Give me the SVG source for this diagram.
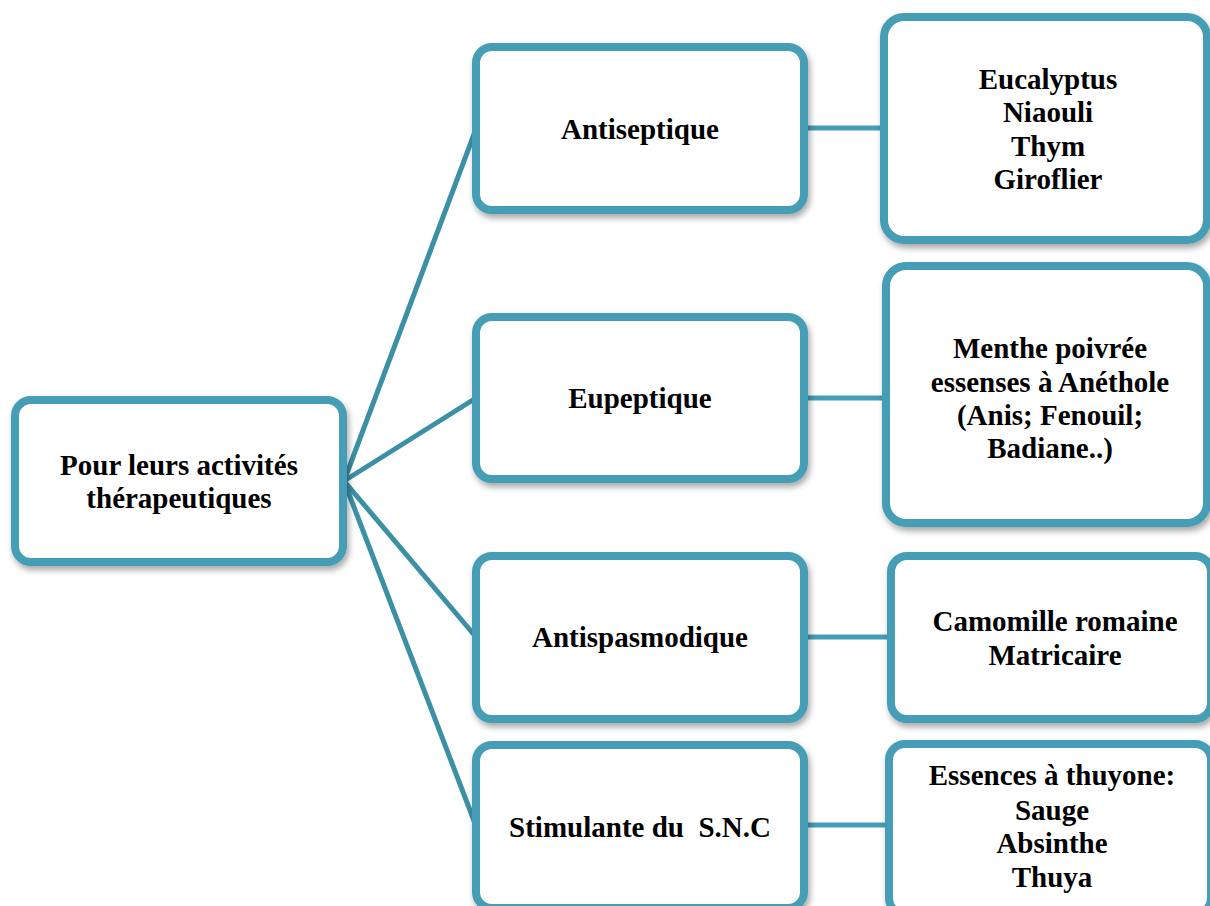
<svg xmlns="http://www.w3.org/2000/svg" width="1210" height="906" viewBox="0 0 1210 906">
<defs>
<filter id="sh" x="-10%" y="-10%" width="125%" height="130%">
<feDropShadow dx="2" dy="4" stdDeviation="3" flood-color="#000" flood-opacity="0.35"/>
</filter>
</defs>
<style>
.box{fill:#fff;stroke:#459DB6;stroke-width:8;filter:url(#sh)}
.fan{stroke:#3C90A6;stroke-width:5;fill:none}
.hz{stroke:#459DB6;stroke-width:5;fill:none}
text{font-family:"Liberation Serif","Times New Roman",serif;font-weight:bold;font-size:29px;fill:#000;text-anchor:middle;white-space:pre}
</style>
<rect width="1210" height="906" fill="#fff"/>
<g id="connectors">
<line class="fan" x1="344" y1="481" x2="476" y2="129"/>
<line class="fan" x1="344" y1="481" x2="476" y2="398"/>
<line class="fan" x1="344" y1="481" x2="476" y2="637"/>
<line class="fan" x1="344" y1="481" x2="476" y2="826"/>
<line class="hz" x1="804" y1="128" x2="884" y2="128"/>
<line class="hz" x1="804" y1="398" x2="886" y2="398"/>
<line class="hz" x1="804" y1="637" x2="891" y2="637"/>
<line class="hz" x1="804" y1="825" x2="889" y2="825"/>
</g>
<g id="root">
<rect class="box" x="15" y="400" width="328" height="162" rx="16"/>
<text x="179" y="475">Pour leurs activités</text>
<text x="179" y="508">thérapeutiques</text>
</g>
<g id="antiseptique">
<rect class="box" x="476" y="47" width="328" height="163" rx="16"/>
<text x="640" y="139">Antiseptique</text>
</g>
<g id="eupeptique">
<rect class="box" x="476" y="317" width="328" height="162" rx="16"/>
<text x="640" y="408">Eupeptique</text>
</g>
<g id="antispasmodique">
<rect class="box" x="476" y="556" width="328" height="163" rx="16"/>
<text x="640" y="647">Antispasmodique</text>
</g>
<g id="stimulante">
<rect class="box" x="476" y="745" width="328" height="163" rx="16"/>
<text x="640" y="837">Stimulante du  S.N.C</text>
</g>
<g id="eucalyptus">
<rect class="box" x="884" y="17" width="323" height="223" rx="20"/>
<text x="1048" y="89">Eucalyptus</text>
<text x="1048" y="122">Niaouli</text>
<text x="1048" y="156">Thym</text>
<text x="1048" y="189">Giroflier</text>
</g>
<g id="menthe">
<rect class="box" x="886" y="266" width="321" height="257" rx="20"/>
<text x="1050" y="358">Menthe poivrée</text>
<text x="1050" y="392">essenses à Anéthole</text>
<text x="1050" y="425">(Anis; Fenouil;</text>
<text x="1050" y="458">Badiane..)</text>
</g>
<g id="camomille">
<rect class="box" x="891" y="556" width="320" height="163" rx="16"/>
<text x="1055" y="631">Camomille romaine</text>
<text x="1055" y="665">Matricaire</text>
</g>
<g id="essences">
<rect class="box" x="889" y="744" width="322" height="170" rx="16"/>
<text x="1052" y="785">Essences à thuyone:</text>
<text x="1052" y="820">Sauge</text>
<text x="1052" y="853">Absinthe</text>
<text x="1052" y="887">Thuya</text>
</g>
</svg>
